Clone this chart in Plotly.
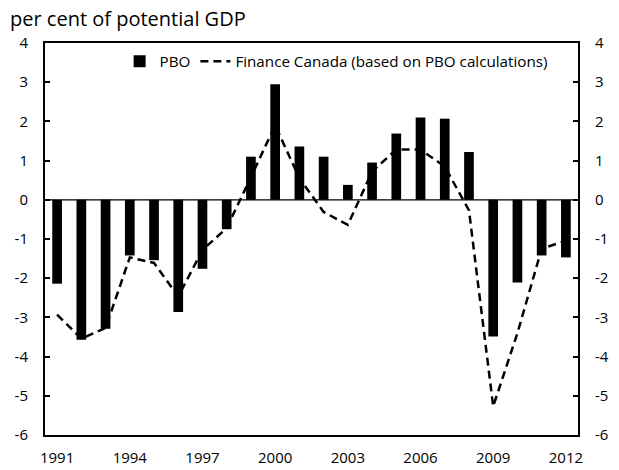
import plotly.graph_objects as go

# Output gap, per cent of potential GDP
years = list(range(1991, 2013))
pbo = [-2.14, -3.57, -3.29, -1.42, -1.54, -2.86, -1.76, -0.75,
       1.10, 2.95, 1.36, 1.10, 0.38, 0.95, 1.69, 2.10, 2.07, 1.22,
       -3.49, -2.11, -1.42, -1.47]
finance_canada = [-2.93, -3.54, -3.27, -1.47, -1.61, -2.47, -1.28, -0.72,
                  0.58, 1.90, 0.55, -0.31, -0.64, 0.72, 1.28, 1.28, 0.85, -0.27,
                  -5.27, -3.40, -1.25, -1.04]
year_ticks = list(range(1991, 2013, 3))
y_ticks = list(range(-6, 5))
y_tick_text = [str(v) for v in y_ticks]  # plain hyphen for negatives

FONT = "Open Sans"

fig = go.Figure()
fig.add_trace(go.Bar(
    x=years, y=pbo, name="PBO", width=0.4,
    marker=dict(color="black", line=dict(width=0)),
))
fig.add_trace(go.Scatter(
    x=years, y=finance_canada, mode="lines",
    name="Finance Canada (based on PBO calculations)",
    line=dict(color="black", width=2.5, dash="8px,5px"),
))
# mirror trace so the right-hand axis is drawn with its labels
fig.add_trace(go.Scatter(
    x=years, y=finance_canada, mode="lines", yaxis="y2",
    line=dict(color="rgba(0,0,0,0)"), showlegend=False, hoverinfo="skip",
))

axis_common = dict(
    range=[-6, 4], tickvals=y_ticks, ticktext=y_tick_text,
    showgrid=False, zeroline=False, automargin=False,
    showline=True, linecolor="black", linewidth=2,
    ticks="inside", ticklen=5, tickwidth=1.5, tickcolor="black",
    ticklabelstandoff=12,
    tickfont=dict(family=FONT, size=15, color="black"),
)

fig.update_layout(
    width=619, height=470,
    margin=dict(l=45, r=41, t=43, b=35),
    paper_bgcolor="white", plot_bgcolor="white",
    font=dict(family=FONT, color="black"),
    showlegend=True,
    legend=dict(
        orientation="h", x=0.14, y=0.995, xanchor="left", yanchor="top",
        font=dict(family=FONT, size=15.2, color="black"),
        bgcolor="rgba(0,0,0,0)", itemwidth=30, tracegroupgap=0,
    ),
    xaxis=dict(
        range=[1990.5, 2012.5], tickvals=year_ticks, showgrid=False,
        zeroline=False, showline=True, linecolor="black", linewidth=2,
        mirror=True, ticks="", ticklen=0, ticklabelstandoff=8,
        automargin=False,
        tickfont=dict(family=FONT, size=15, color="black"),
    ),
    yaxis=dict(side="left", **axis_common),
    yaxis2=dict(side="right", overlaying="y", **axis_common),
    shapes=[dict(type="line", xref="paper", x0=0, x1=1, yref="y", y0=0, y1=0,
                 line=dict(color="black", width=1.2))],
    annotations=[dict(
        text="per cent of potential GDP", xref="paper", yref="paper",
        x=-37/533, y=1 + 40/392, xanchor="left", yanchor="top",
        showarrow=False, font=dict(family=FONT, size=20, color="black"),
    )],
)

fig.write_html("out.html")
